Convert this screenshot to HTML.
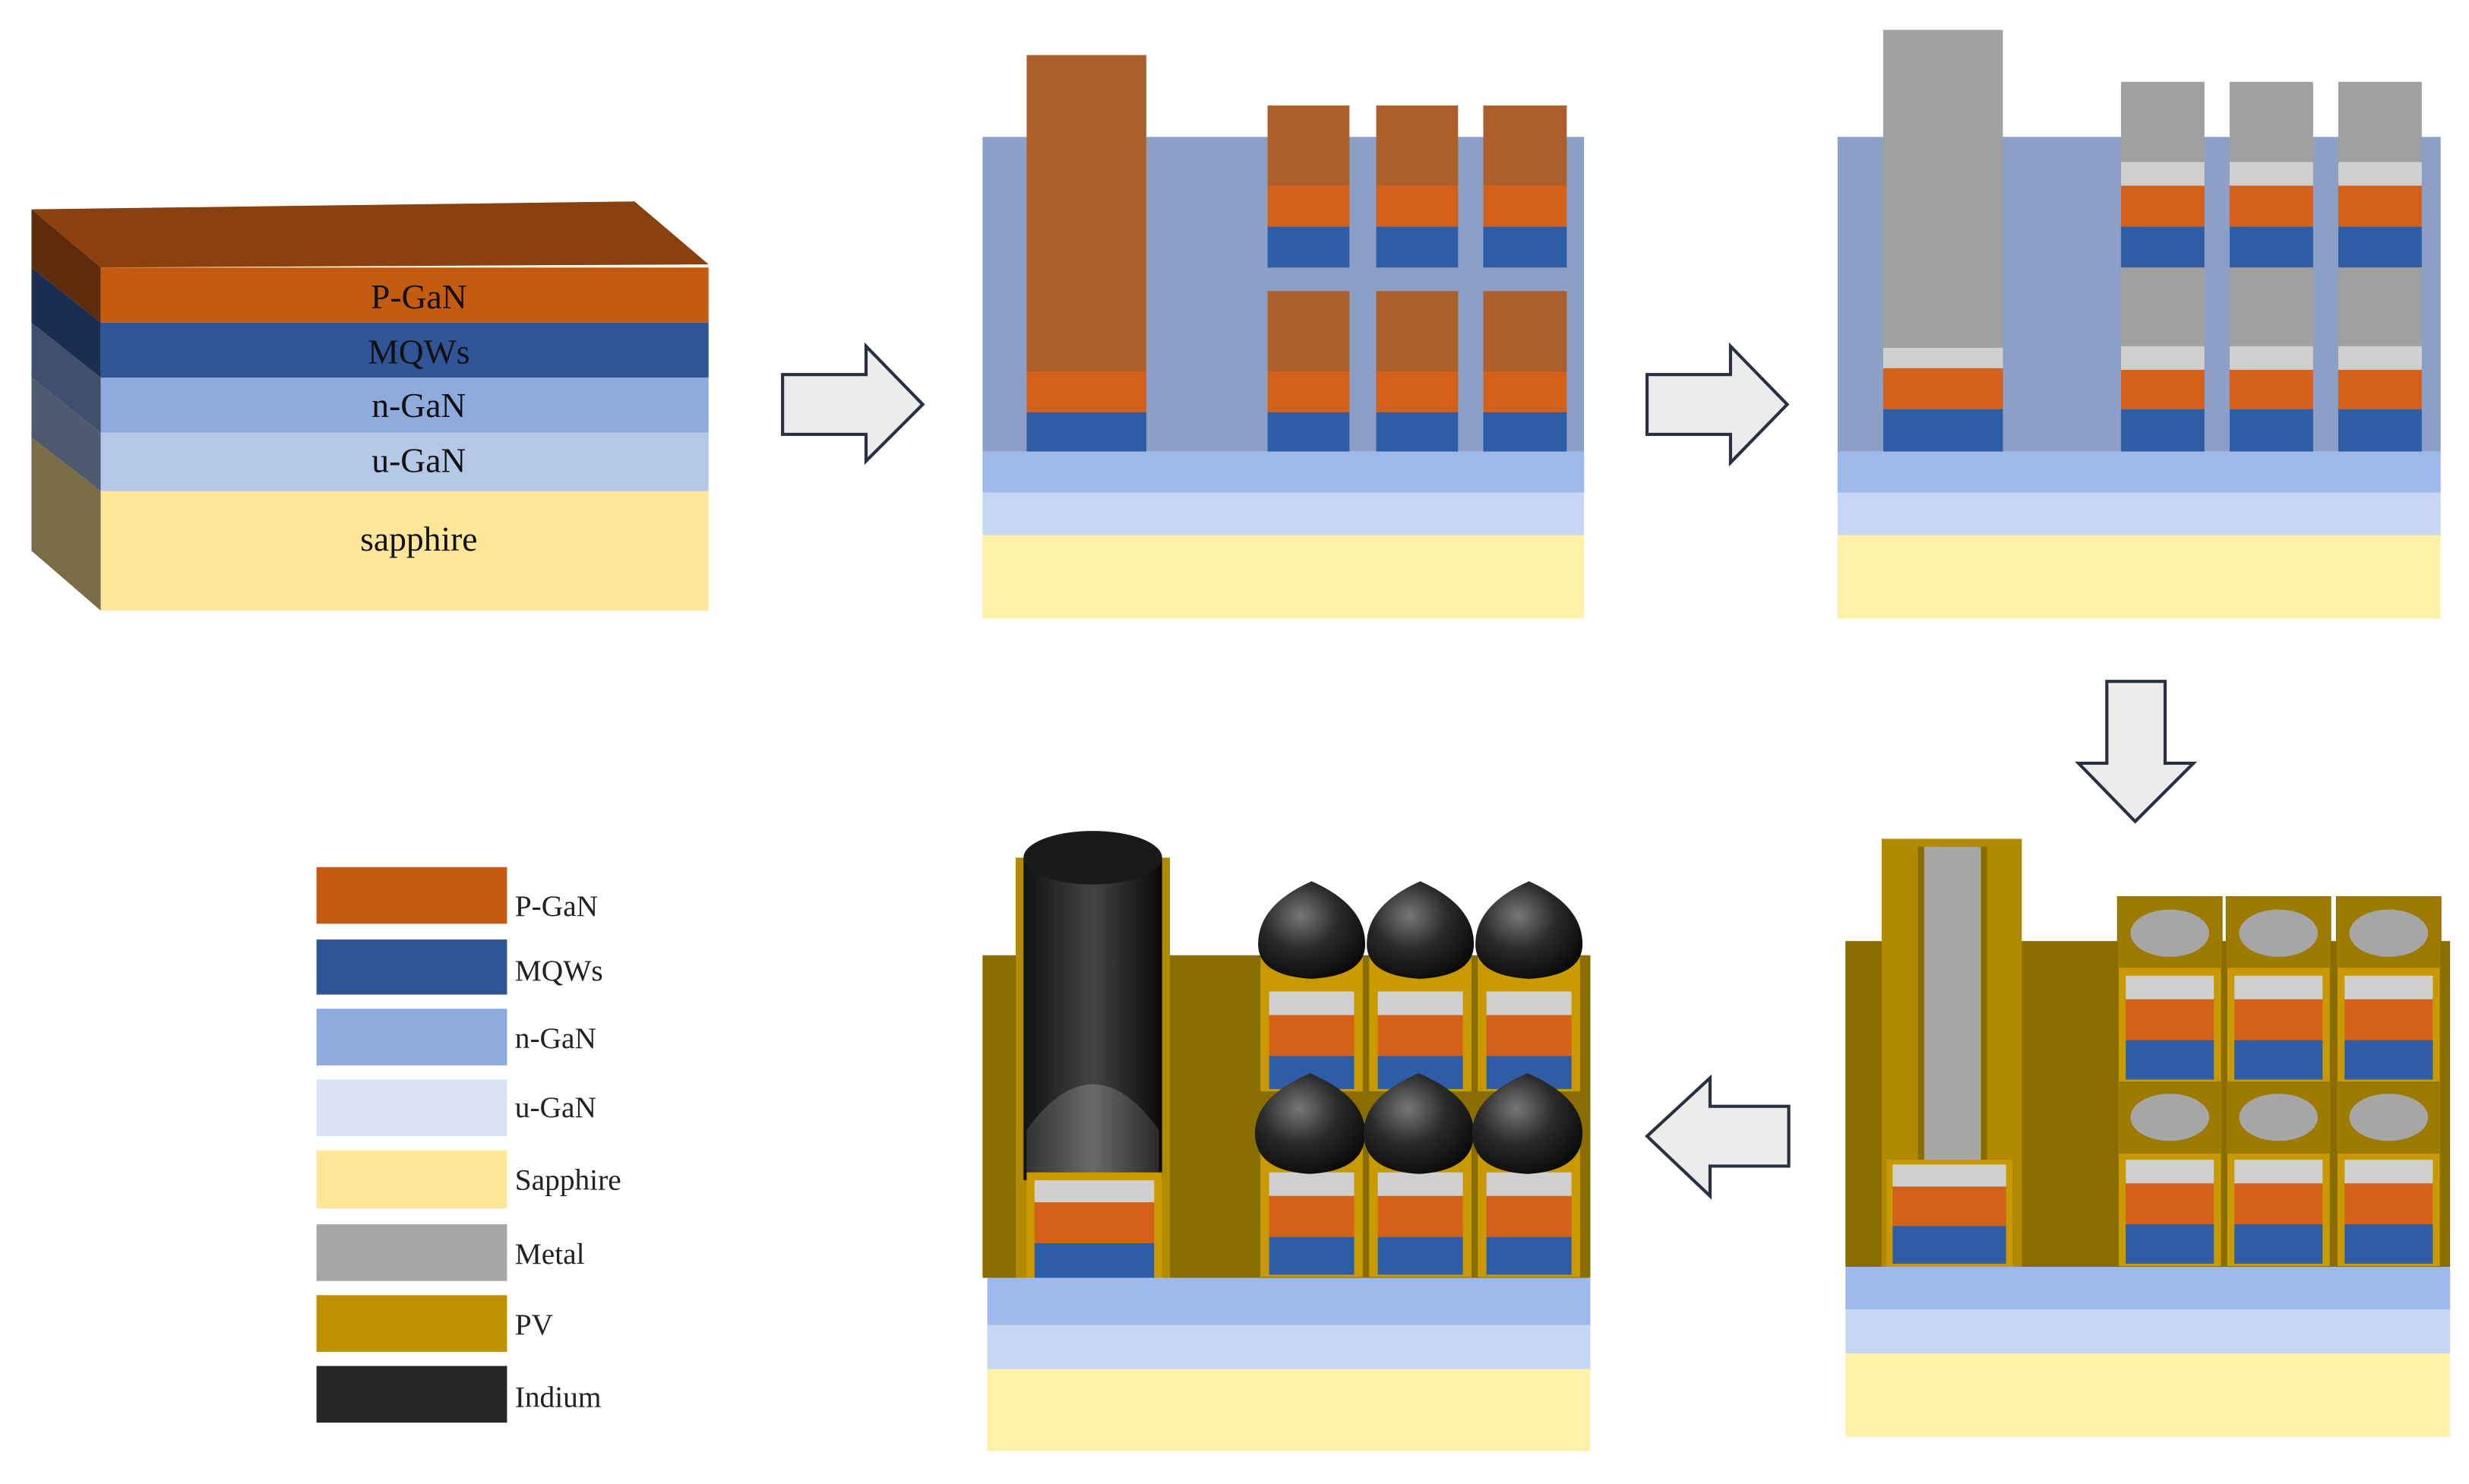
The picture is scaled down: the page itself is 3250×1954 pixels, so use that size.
<!DOCTYPE html>
<html><head><meta charset="utf-8"><style>html,body{margin:0;padding:0;background:#fff}svg{display:block}</style></head>
<body>
<svg width="3250" height="1954" viewBox="0 0 1568 943" preserveAspectRatio="none" xmlns="http://www.w3.org/2000/svg" font-family="Liberation Serif, serif">
<defs>
<radialGradient id="dome" cx="0.4" cy="0.35" r="0.7"><stop offset="0" stop-color="#777"/><stop offset="0.5" stop-color="#2a2a2a"/><stop offset="1" stop-color="#0a0a0a"/></radialGradient>
<linearGradient id="cyl" x1="0" x2="1"><stop offset="0" stop-color="#111"/><stop offset="0.5" stop-color="#444"/><stop offset="1" stop-color="#0a0a0a"/></linearGradient>
<linearGradient id="cyl2" x1="0" x2="1"><stop offset="0" stop-color="#333"/><stop offset="0.5" stop-color="#6a6a6a"/><stop offset="1" stop-color="#2a2a2a"/></linearGradient>
</defs>
<!-- Panel 1 -->
<polygon points="20,133 403,128 450,168 64,170" fill="#8b410f"/>
<polygon points="20,133 64,170 64,205 20,170" fill="#5e2c0a"/>
<polygon points="20,170 64,205 64,240 20,205" fill="#1c2d52"/>
<polygon points="20,205 64,240 64,275 20,240" fill="#3f4f6e"/>
<polygon points="20,240 64,275 64,312 20,278" fill="#4d5a70"/>
<polygon points="20,278 64,312 64,388 20,350" fill="#7a6c45"/>
<rect x="64" y="170" width="386" height="35" fill="#c55a11"/>
<rect x="64" y="205" width="386" height="35" fill="#2f5597"/>
<rect x="64" y="240" width="386" height="35" fill="#8faadc"/>
<rect x="64" y="275" width="386" height="37" fill="#b4c7e7"/>
<rect x="64" y="312" width="386" height="76" fill="#ffe699"/>
<g font-size="22" text-anchor="middle" fill="#111">
<text x="266" y="196">P-GaN</text><text x="266" y="231">MQWs</text><text x="266" y="265">n-GaN</text><text x="266" y="300">u-GaN</text><text x="266" y="350">sapphire</text></g>
<!-- arrows -->
<g fill="#ececec" stroke="#2a3040" stroke-width="2">
<polygon points="497,238 550,238 550,220 586,257 550,293 550,276 497,276"/>
<polygon points="1046,238 1099,238 1099,220 1135,257 1099,294 1099,276 1046,276"/>
<polygon points="1338,433 1375,433 1375,485 1393,485 1356,522 1320,485 1338,485"/>
<polygon points="1136,703 1086,703 1086,685 1046,722 1086,760 1086,741 1136,741"/>
</g>
<!-- Panel 2 -->
<rect x="624" y="87" width="382" height="200" fill="#8b9fc7"/>
<rect x="652" y="35" width="76" height="201" fill="#ad5f2b"/><rect x="652" y="236" width="76" height="26" fill="#d5601a"/><rect x="652" y="262" width="76" height="25" fill="#2e5da8"/>
<g>
<rect x="805" y="67" width="52" height="51" fill="#ad5f2b"/><rect x="805" y="118" width="52" height="26" fill="#d5601a"/><rect x="805" y="144" width="52" height="26" fill="#2e5da8"/>
<rect x="874" y="67" width="52" height="51" fill="#ad5f2b"/><rect x="874" y="118" width="52" height="26" fill="#d5601a"/><rect x="874" y="144" width="52" height="26" fill="#2e5da8"/>
<rect x="942" y="67" width="53" height="51" fill="#ad5f2b"/><rect x="942" y="118" width="53" height="26" fill="#d5601a"/><rect x="942" y="144" width="53" height="26" fill="#2e5da8"/>
<rect x="805" y="185" width="52" height="51" fill="#ad5f2b"/><rect x="805" y="236" width="52" height="26" fill="#d5601a"/><rect x="805" y="262" width="52" height="25" fill="#2e5da8"/>
<rect x="874" y="185" width="52" height="51" fill="#ad5f2b"/><rect x="874" y="236" width="52" height="26" fill="#d5601a"/><rect x="874" y="262" width="52" height="25" fill="#2e5da8"/>
<rect x="942" y="185" width="53" height="51" fill="#ad5f2b"/><rect x="942" y="236" width="53" height="26" fill="#d5601a"/><rect x="942" y="262" width="53" height="25" fill="#2e5da8"/>
</g>
<rect x="624" y="287" width="382" height="26" fill="#9db9ec"/><rect x="624" y="313" width="382" height="27" fill="#c6d7f5"/><rect x="624" y="340" width="382" height="53" fill="#fff2a8"/>
<!-- Panel 3 -->
<rect x="1167" y="87" width="383" height="200" fill="#8b9fc7"/>
<rect x="1196" y="19" width="76" height="202" fill="#a0a0a0"/><rect x="1196" y="221" width="76" height="13" fill="#d0d0d0"/><rect x="1196" y="234" width="76" height="26" fill="#d5601a"/><rect x="1196" y="260" width="76" height="27" fill="#2e5da8"/>
<g id="p3c">
<rect x="1347" y="52" width="53" height="51" fill="#a0a0a0"/><rect x="1347" y="103" width="53" height="15" fill="#d0d0d0"/><rect x="1347" y="118" width="53" height="26" fill="#d5601a"/><rect x="1347" y="144" width="53" height="26" fill="#2e5da8"/>
<rect x="1347" y="170" width="53" height="50" fill="#a0a0a0"/><rect x="1347" y="220" width="53" height="15" fill="#d0d0d0"/><rect x="1347" y="235" width="53" height="25" fill="#d5601a"/><rect x="1347" y="260" width="53" height="27" fill="#2e5da8"/>
</g>
<use href="#p3c" x="69"/><use href="#p3c" x="138"/>
<rect x="1167" y="287" width="383" height="26" fill="#9db9ec"/><rect x="1167" y="313" width="383" height="27" fill="#c6d7f5"/><rect x="1167" y="340" width="383" height="53" fill="#fff2a8"/>
<!-- Panel 5 (bottom right) -->
<rect x="1172" y="598" width="384" height="207" fill="#8a6d00"/>
<rect x="1195" y="533" width="89" height="272" fill="#b08a00"/>
<rect x="1218" y="538" width="44" height="200" fill="#8a6d00"/>
<rect x="1222" y="538" width="36" height="202" fill="#a6a6a6"/>
<rect x="1198" y="737" width="80" height="68" fill="#c99a00"/>
<rect x="1202" y="740" width="72" height="14" fill="#cfcfcf"/><rect x="1202" y="754" width="72" height="25" fill="#d5601a"/><rect x="1202" y="779" width="72" height="24" fill="#2e5da8"/>
<g id="c5">
<rect x="1345" y="570" width="66" height="118" fill="#c99a00" stroke="#8a6d00" stroke-width="1"/>
<rect x="1345" y="570" width="66" height="45" fill="#9c7b00"/>
<ellipse cx="1378" cy="593" rx="25" ry="15" fill="#a6a6a6"/>
<rect x="1350" y="620" width="56" height="15" fill="#cfcfcf"/><rect x="1350" y="635" width="56" height="26" fill="#d5601a"/><rect x="1350" y="661" width="56" height="25" fill="#2e5da8"/>
<rect x="1345" y="688" width="66" height="117" fill="#c99a00" stroke="#8a6d00" stroke-width="1"/>
<rect x="1345" y="688" width="66" height="45" fill="#9c7b00"/>
<ellipse cx="1378" cy="710" rx="25" ry="15" fill="#a6a6a6"/>
<rect x="1350" y="737" width="56" height="15" fill="#cfcfcf"/><rect x="1350" y="752" width="56" height="26" fill="#d5601a"/><rect x="1350" y="778" width="56" height="25" fill="#2e5da8"/>
</g>
<use href="#c5" x="69"/><use href="#c5" x="139"/>
<rect x="1172" y="805" width="384" height="27" fill="#9db9ec"/><rect x="1172" y="832" width="384" height="28" fill="#c6d7f5"/><rect x="1172" y="860" width="384" height="53" fill="#fff2a8"/>
<!-- Panel 4 (bottom middle) -->
<rect x="624" y="607" width="386" height="205" fill="#8a6d00"/>
<rect x="645" y="545" width="98" height="267" fill="#b08a00"/>
<rect x="650" y="545" width="88" height="205" fill="url(#cyl)"/>
<ellipse cx="694" cy="545" rx="44" ry="17" fill="#1a1a1a"/>
<path d="M652,750 L652,718 Q694,660 736,718 L736,750 Z" fill="url(#cyl2)"/>
<rect x="652" y="745" width="86" height="67" fill="#c99a00"/>
<rect x="657" y="750" width="76" height="14" fill="#cfcfcf"/><rect x="657" y="764" width="76" height="26" fill="#d5601a"/><rect x="657" y="790" width="76" height="22" fill="#2e5da8"/>
<g id="c4">
<rect x="800" y="608" width="66" height="86" fill="#c99a00" stroke="#8a6d00"/>
<rect x="806" y="630" width="54" height="15" fill="#cfcfcf"/><rect x="806" y="645" width="54" height="26" fill="#d5601a"/><rect x="806" y="671" width="54" height="21" fill="#2e5da8"/>
<rect x="800" y="728" width="66" height="84" fill="#c99a00" stroke="#8a6d00"/>
<rect x="806" y="745" width="54" height="15" fill="#cfcfcf"/><rect x="806" y="760" width="54" height="26" fill="#d5601a"/><rect x="806" y="786" width="54" height="24" fill="#2e5da8"/>
<path d="M799,600 Q799,575 833,560 Q867,575 867,600 Q867,620 833,622 Q799,620 799,600 Z" fill="url(#dome)"/>
<path d="M797,720 Q797,697 832,682 Q867,697 867,720 Q867,744 832,746 Q797,744 797,720 Z" fill="url(#dome)"/>
</g>
<use href="#c4" x="69"/><use href="#c4" x="138"/>
<rect x="627" y="812" width="383" height="30" fill="#9db9ec"/><rect x="627" y="842" width="383" height="28" fill="#c6d7f5"/><rect x="627" y="870" width="383" height="52" fill="#fff2a8"/>
<!-- Legend -->
<rect x="201" y="551" width="121" height="36" fill="#c55a11"/>
<rect x="201" y="597" width="121" height="35" fill="#2f5597"/>
<rect x="201" y="641" width="121" height="36" fill="#8faadc"/>
<rect x="201" y="686" width="121" height="36" fill="#dae3f3"/>
<rect x="201" y="731" width="121" height="37" fill="#ffe699"/>
<rect x="201" y="778" width="121" height="36" fill="#a6a6a6"/>
<rect x="201" y="823" width="121" height="36" fill="#bf9000"/>
<rect x="201" y="868" width="121" height="36" fill="#262626"/>
<g font-size="19" fill="#222">
<text x="327" y="582">P-GaN</text><text x="327" y="623">MQWs</text><text x="327" y="666">n-GaN</text><text x="327" y="710">u-GaN</text><text x="327" y="756">Sapphire</text><text x="327" y="803">Metal</text><text x="327" y="848">PV</text><text x="327" y="894">Indium</text></g>
</svg>
</body></html>
